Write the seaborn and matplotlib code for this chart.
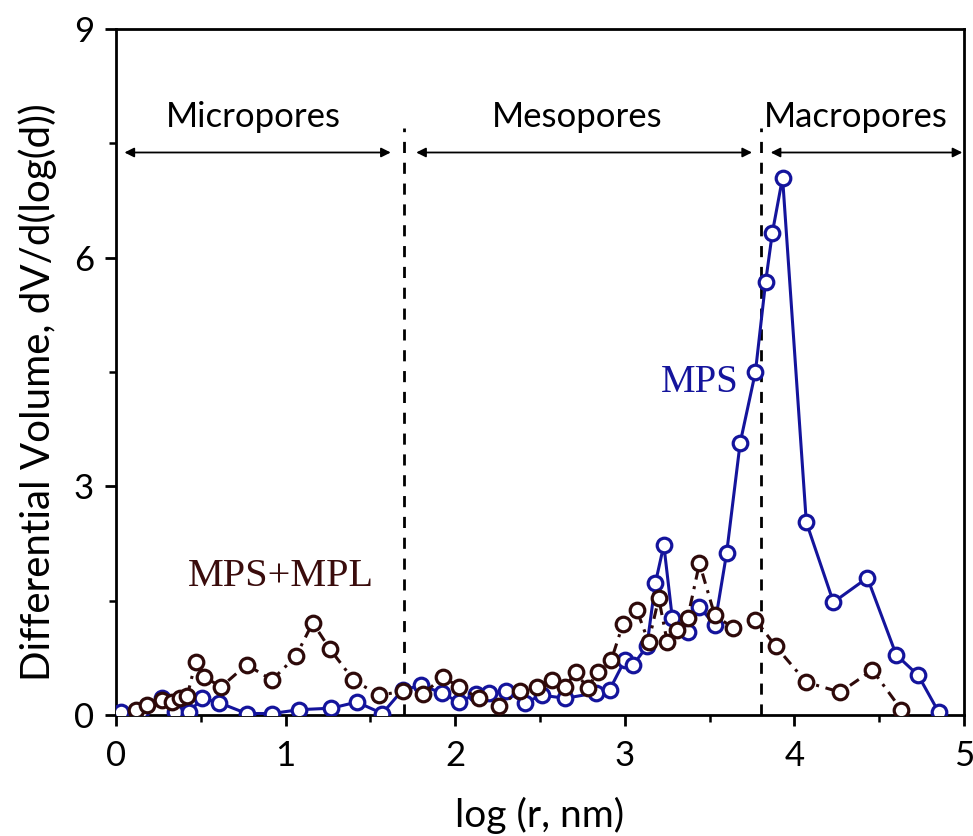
import numpy as np
import pandas as pd
import matplotlib
matplotlib.use("Agg")
import matplotlib.pyplot as plt
from matplotlib.ticker import MultipleLocator
import seaborn as sns

# datos
mps_x = [0.03, 0.15, 0.27, 0.35, 0.43, 0.51, 0.61, 0.77, 0.92, 1.08, 1.27, 1.42, 1.57,
         1.69, 1.80, 1.92, 2.02, 2.12, 2.20, 2.30, 2.41, 2.51, 2.65, 2.83, 2.91,
         3.00, 3.05, 3.13, 3.18, 3.23, 3.28, 3.37, 3.44, 3.53, 3.60, 3.68, 3.77,
         3.83, 3.87, 3.93, 4.07, 4.23, 4.43, 4.60, 4.73, 4.85]
mps_y = [0.04, 0.05, 0.22, 0.04, 0.04, 0.22, 0.16, 0.02, 0.02, 0.07, 0.09, 0.17, 0.02,
         0.33, 0.39, 0.29, 0.17, 0.27, 0.29, 0.31, 0.16, 0.26, 0.22, 0.29, 0.33,
         0.72, 0.66, 0.90, 1.73, 2.23, 1.27, 1.09, 1.42, 1.18, 2.12, 3.57, 4.50,
         5.68, 6.33, 7.05, 2.53, 1.48, 1.80, 0.79, 0.52, 0.04]

mpl_x = [0.12, 0.18, 0.27, 0.33, 0.38, 0.42, 0.47, 0.52, 0.62, 0.77, 0.92, 1.06, 1.16,
         1.26, 1.40, 1.55, 1.69, 1.81, 1.93, 2.02, 2.14, 2.26, 2.38, 2.48, 2.57,
         2.65, 2.71, 2.78, 2.84, 2.92, 2.99, 3.07, 3.14, 3.20, 3.25, 3.31, 3.37,
         3.44, 3.53, 3.64, 3.77, 3.89, 4.07, 4.27, 4.46, 4.63]
mpl_y = [0.07, 0.13, 0.20, 0.17, 0.22, 0.25, 0.70, 0.50, 0.37, 0.66, 0.46, 0.77, 1.21,
         0.87, 0.46, 0.26, 0.31, 0.28, 0.50, 0.37, 0.22, 0.12, 0.31, 0.37, 0.46,
         0.37, 0.57, 0.35, 0.57, 0.72, 1.20, 1.38, 0.96, 1.53, 0.96, 1.12, 1.27,
         1.99, 1.31, 1.14, 1.25, 0.90, 0.43, 0.30, 0.59, 0.07]

limites = [1.7, 3.8]          # fronteras micro/meso/macro
regiones = ["Micropores", "Mesopores", "Macropores"]
reg_x = [0.81, 2.72, 4.36]
flechas = [(0.05, 1.62), (1.77, 3.75), (3.86, 4.99)]

sns.set_theme(style="ticks")
plt.rcParams['font.family'] = ['Lato', 'DejaVu Sans']

azul = "#14149c"
marron = "#2e0a0a"

fig = plt.figure(figsize=(9.73, 8.36), dpi=100)
ax = fig.add_axes([0.1192, 0.1447, 0.8716, 0.8206])

df_mps = pd.DataFrame({"x": mps_x, "y": mps_y})
df_mpl = pd.DataFrame({"x": mpl_x, "y": mpl_y})

sns.lineplot(data=df_mps, x="x", y="y", ax=ax, sort=False, color=azul, lw=2.2,
             marker="o", markersize=10.5, markerfacecolor="white",
             markeredgecolor=azul, markeredgewidth=2.3, zorder=3)
sns.lineplot(data=df_mpl, x="x", y="y", ax=ax, sort=False, color=marron, lw=2.2,
             marker="o", markersize=10.5, markerfacecolor="white",
             markeredgecolor=marron, markeredgewidth=2.3, zorder=4,
             dashes=False)
ax.lines[-1].set_dashes([3.5, 2.2, 1, 2.2])

for xl in limites:
    ax.plot([xl, xl], [0, 7.7], color="black", lw=2, ls=(0, (4, 3.5)), zorder=2)

for (a, b) in flechas:
    ax.annotate("", xy=(b, 7.38), xytext=(a, 7.38),
                arrowprops=dict(arrowstyle="<|-|>", color="black", lw=1.3,
                                mutation_scale=14, shrinkA=0, shrinkB=0))
for t, xr in zip(regiones, reg_x):
    ax.text(xr, 7.85, t, ha="center", va="center", fontsize=25, color="black")

ax.text(3.44, 4.36, "MPS", color=azul, fontsize=28, family="Liberation Serif",
        ha="center", va="center")
ax.text(0.975, 1.82, "MPS+MPL", color="#3a0c0c", fontsize=29, family="Liberation Serif",
        ha="center", va="center")

ax.set_xlim(0, 5)
ax.set_ylim(0, 9)
ax.xaxis.set_major_locator(MultipleLocator(1))
ax.xaxis.set_minor_locator(MultipleLocator(0.5))
ax.yaxis.set_major_locator(MultipleLocator(3))
ax.yaxis.set_minor_locator(MultipleLocator(1.5))
ax.tick_params(which="major", direction="out", length=8, width=2, labelsize=25,
               color="black", labelcolor="black", pad=8)
ax.tick_params(axis="x", which="major", pad=10)
ax.tick_params(which="minor", direction="out", length=5, width=1.8, color="black")
for s in ax.spines.values():
    s.set_linewidth(2)
    s.set_color("black")

ax.set_xlabel("log (r, nm)", fontsize=28, labelpad=18, color="black")
ax.set_ylabel("Differential Volume, dV/d(log(d))", fontsize=29, color="black")
ax.yaxis.set_label_coords(-0.07, 0.47)

fig.savefig("out.png", dpi=100)
